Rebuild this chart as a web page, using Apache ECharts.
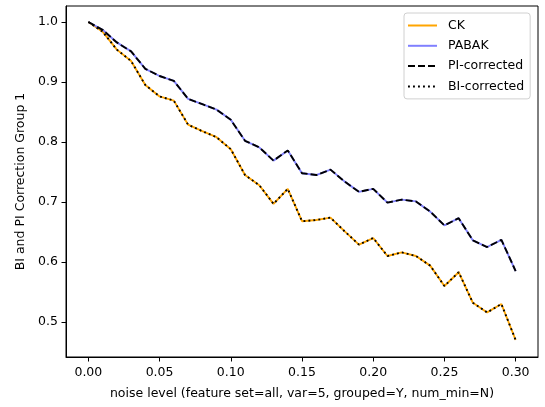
<meta charset="utf-8" />
<div id="chart" style="width:545px;height:407px"></div>
<style>
body { margin: 0; background: #fff; }
</style>
<script src="https://cdn.jsdelivr.net/npm/echarts@6.0.0/dist/echarts.min.js"></script>
<script>
const noise = [0.00, 0.01, 0.02, 0.03, 0.04, 0.05, 0.06, 0.07, 0.08, 0.09, 0.10,
  0.11, 0.12, 0.13, 0.14, 0.15, 0.16, 0.17, 0.18, 0.19, 0.20,
  0.21, 0.22, 0.23, 0.24, 0.25, 0.26, 0.27, 0.28, 0.29, 0.30];
const ck = [1.000, 0.984, 0.954, 0.935, 0.895, 0.876, 0.869, 0.829, 0.818, 0.808, 0.788,
  0.745, 0.728, 0.697, 0.722, 0.668, 0.670, 0.674, 0.651, 0.629, 0.640,
  0.610, 0.616, 0.610, 0.594, 0.560, 0.583, 0.532, 0.516, 0.530, 0.470];
const pabak = [1.000, 0.987, 0.966, 0.951, 0.922, 0.910, 0.902, 0.872, 0.863, 0.854, 0.837,
  0.802, 0.791, 0.769, 0.786, 0.748, 0.745, 0.754, 0.734, 0.717, 0.722,
  0.699, 0.704, 0.701, 0.684, 0.661, 0.673, 0.636, 0.625, 0.637, 0.585];
const piCorrected = [1.000, 0.987, 0.966, 0.951, 0.922, 0.910, 0.902, 0.872, 0.863, 0.854, 0.837,
  0.802, 0.791, 0.769, 0.786, 0.748, 0.745, 0.754, 0.734, 0.717, 0.722,
  0.699, 0.704, 0.701, 0.684, 0.661, 0.673, 0.636, 0.625, 0.637, 0.585];
const biCorrected = [1.000, 0.984, 0.954, 0.935, 0.895, 0.876, 0.869, 0.829, 0.818, 0.808, 0.788,
  0.745, 0.728, 0.697, 0.722, 0.668, 0.670, 0.674, 0.651, 0.629, 0.640,
  0.610, 0.616, 0.610, 0.594, 0.560, 0.583, 0.532, 0.516, 0.530, 0.470];
const xTicks = [0, 0.05, 0.10, 0.15, 0.20, 0.25, 0.30];
const yTicks = [0.5, 0.6, 0.7, 0.8, 0.9, 1.0];

const font = 'DejaVu Sans';
const pairs = ys => noise.map((x, i) => [x, ys[i]]);
const line = (name, ys, color, type) => ({
  name,
  type: 'line',
  data: pairs(ys),
  symbol: 'none',
  showSymbol: false,
  animation: false,
  lineStyle: { color, width: 1.9, type },
  itemStyle: { color }
});

const chart = echarts.init(document.getElementById('chart'));
chart.setOption({
  backgroundColor: '#fff',
  animation: false,
  textStyle: { fontFamily: font },
  grid: {
    left: 66, right: 7, top: 6, bottom: 50,
    show: true, borderColor: '#000', borderWidth: 1,
    outerBoundsMode: 'none'
  },
  legend: {
    orient: 'vertical',
    left: 404, top: 13,
    itemWidth: 29, itemHeight: 12, itemGap: 7.3,
    padding: [6, 6, 6, 3],
    backgroundColor: 'rgba(255,255,255,0.8)',
    borderColor: '#d0d0d0', borderWidth: 1, borderRadius: 3,
    itemStyle: { opacity: 0 },
    textStyle: { fontFamily: font, fontSize: 12.5, color: '#000', padding: [0, 0, 0, 6] },
    data: ['CK', 'PABAK', 'PI-corrected', 'BI-corrected']
  },
  xAxis: {
    type: 'value',
    min: -0.0157, max: 0.3157,
    name: 'noise level (feature set=all, var=5, grouped=Y, num_min=N)',
    nameLocation: 'middle', nameGap: 30,
    nameTextStyle: { fontFamily: font, fontSize: 12.5, color: '#000' },
    axisLine: { onZero: false, lineStyle: { color: '#000', width: 1 } },
    axisTick: { customValues: xTicks, length: 4.5, lineStyle: { color: '#000' } },
    axisLabel: {
      customValues: xTicks, margin: 9,
      fontFamily: font, fontSize: 12.5, color: '#000',
      formatter: v => v.toFixed(2)
    },
    splitLine: { show: false }
  },
  yAxis: {
    type: 'value',
    min: 0.4417, max: 1.0267,
    name: 'BI and PI Correction Group 1',
    nameLocation: 'middle', nameGap: 38,
    nameTextStyle: { fontFamily: font, fontSize: 12.5, color: '#000' },
    axisLine: { show: true, onZero: false, lineStyle: { color: '#000', width: 1 } },
    axisTick: { show: true, customValues: yTicks, length: 4.5, lineStyle: { color: '#000' } },
    axisLabel: {
      customValues: yTicks, margin: 8,
      fontFamily: font, fontSize: 12.5, color: '#000',
      formatter: v => v.toFixed(1)
    },
    splitLine: { show: false }
  },
  series: [
    line('CK', ck, '#ffa500', 'solid'),
    line('PABAK', pabak, '#8080ff', 'solid'),
    line('PI-corrected', piCorrected, '#000', [7, 3]),
    line('BI-corrected', biCorrected, '#000', [1.9, 3.1])
  ]
});
</script>
